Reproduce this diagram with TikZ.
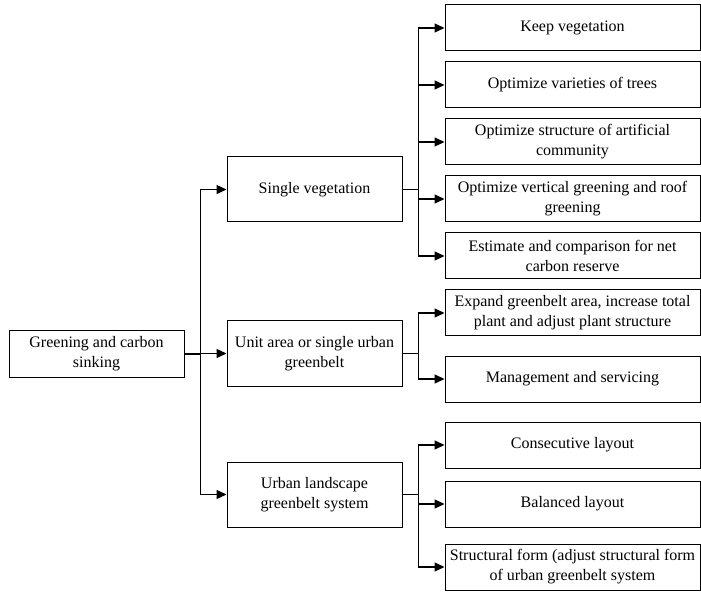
\documentclass[tikz,border=0pt]{standalone}
\usepackage{fontspec}
\setmainfont{Liberation Serif}
\usetikzlibrary{arrows.meta,positioning}

\begin{document}
\begin{tikzpicture}
[x=1pt, y=-1pt, >={Triangle[length=10pt,width=9pt]}, line width=1.2pt,
every node/.style={font=\fontsize{16}{20}\selectfont},
box/.style={draw, rectangle, align=center, inner sep=1pt, line width=1pt},
rootbox/.style={box, minimum width=175pt, minimum height=46pt},
midbox/.style={box, minimum width=175pt, minimum height=65pt},
leafbox/.style={box, minimum width=255pt, minimum height=46pt}
]
  \useasboundingbox (0,0) rectangle (701,593);

  \node[rootbox] (root) at (96.5,354) {Greening and carbon\\sinking};

  \node[midbox] (sv) at (314.5,189.5) {Single vegetation};
  \node[midbox] (ua) at (314.5,353.5) {Unit area or single urban\\greenbelt};
  \node[midbox] (ul) at (314.5,494.5) {Urban landscape\\greenbelt system};

  \node[leafbox] (k1) at (572.5,28)  {Keep vegetation};
  \node[leafbox] (k2) at (572.5,85)  {Optimize varieties of trees};
  \node[leafbox] (k3) at (572.5,142) {Optimize structure of artificial\\community};
  \node[leafbox] (k4) at (572.5,199) {Optimize vertical greening and roof\\greening};
  \node[leafbox] (k5) at (572.5,256) {Estimate and comparison for net\\carbon reserve};
  \node[leafbox] (u1) at (572.5,313) {Expand greenbelt area, increase total\\plant and adjust plant structure};
  \node[leafbox] (u2) at (572.5,379) {Management and servicing};
  \node[leafbox] (l1) at (572.5,445) {Consecutive layout};
  \node[leafbox] (l2) at (572.5,504) {Balanced layout};
  \node[leafbox] (l3) at (572.5,567) {Structural form (adjust structural form\\of urban greenbelt system};

  % trunk from the root
  \coordinate (trunk) at ([xshift=16pt]root.east);
  \draw (root) -- (trunk);
  \foreach \m in {sv,ua,ul}
    \draw[->] (trunk) |- (\m);

  % branches to the leaves
  \coordinate (svj) at ([xshift=16pt]sv.east);
  \coordinate (uaj) at ([xshift=16pt]ua.east);
  \coordinate (ulj) at ([xshift=16pt]ul.east);
  \draw (sv) -- (svj);
  \draw (ua) -- (uaj);
  \draw (ul) -- (ulj);
  \foreach \n in {k1,k2,k3,k4,k5}
    \draw[->] (svj) |- (\n);
  \foreach \n in {u1,u2}
    \draw[->] (uaj) |- (\n);
  \foreach \n in {l1,l2,l3}
    \draw[->] (ulj) |- (\n);
\end{tikzpicture}
\end{document}
